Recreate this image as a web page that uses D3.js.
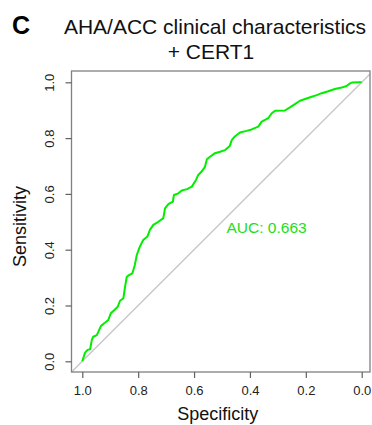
<!DOCTYPE html>
<html>
<head>
<meta charset="utf-8">
<script src="https://cdn.jsdelivr.net/npm/d3@7"></script>
<style>
  html, body { margin: 0; padding: 0; background: #fff; }
  svg { display: block; font-family: "Liberation Sans", Arial, Helvetica, sans-serif; }
</style>
</head>
<body>
<svg id="chart" width="372" height="425"></svg>
<script>
// ROC curve (specificity, sensitivity)
const specificity = [1.000, 0.990, 0.981, 0.972, 0.966, 0.961, 0.948, 0.940, 0.933, 0.919,
  0.907, 0.898, 0.885, 0.873, 0.865, 0.853, 0.847, 0.841, 0.833, 0.821,
  0.812, 0.805, 0.794, 0.782, 0.767, 0.758, 0.746, 0.728, 0.710, 0.704,
  0.692, 0.676, 0.672, 0.656, 0.644, 0.625, 0.608, 0.593, 0.585, 0.573,
  0.561, 0.554, 0.543, 0.525, 0.507, 0.489, 0.472, 0.465, 0.454, 0.436,
  0.412, 0.394, 0.370, 0.358, 0.334, 0.322, 0.310, 0.275, 0.257, 0.239,
  0.221, 0.203, 0.179, 0.161, 0.143, 0.120, 0.096, 0.072, 0.054, 0.042,
  0.035, 0.006, 0.000];
const sensitivity = [0.000, 0.031, 0.041, 0.043, 0.076, 0.088, 0.094, 0.112, 0.127, 0.138,
  0.148, 0.172, 0.184, 0.196, 0.217, 0.226, 0.267, 0.302, 0.309, 0.315,
  0.345, 0.381, 0.411, 0.435, 0.447, 0.471, 0.489, 0.500, 0.513, 0.548,
  0.563, 0.572, 0.596, 0.602, 0.612, 0.617, 0.626, 0.650, 0.668, 0.680,
  0.697, 0.724, 0.733, 0.746, 0.751, 0.757, 0.772, 0.793, 0.806, 0.820,
  0.826, 0.831, 0.841, 0.859, 0.872, 0.889, 0.898, 0.899, 0.910, 0.922,
  0.934, 0.940, 0.948, 0.954, 0.961, 0.968, 0.976, 0.981, 0.987, 0.996,
  0.999, 1.000, 1.000];
const xTicks = [1.0, 0.8, 0.6, 0.4, 0.2, 0.0];
const yTicks = [0.0, 0.2, 0.4, 0.6, 0.8, 1.0];
const titleLines = ["AHA/ACC clinical characteristics", "+ CERT1"];
const panelLabel = "C";
const aucLabel = "AUC: 0.663";

const svg = d3.select("#chart");

// plot region
const x = d3.scaleLinear().domain([1, 0]).range([82.3, 361.7]);
const y = d3.scaleLinear().domain([0, 1]).range([361.3, 82.3]);
const box = { left: 71.5, right: 370, top: 71, bottom: 372 };

svg.append("clipPath").attr("id", "clip")
  .append("rect")
  .attr("x", box.left).attr("y", box.top)
  .attr("width", box.right - box.left).attr("height", box.bottom - box.top);

// chance diagonal, spans the whole box
svg.append("line")
  .attr("clip-path", "url(#clip)")
  .attr("x1", x(x.invert(box.left))).attr("y1", y(1 - x.invert(box.left)))
  .attr("x2", x(x.invert(box.right))).attr("y2", y(1 - x.invert(box.right)))
  .attr("stroke", "#c8c8c8")
  .attr("stroke-width", 1.4);

// roc curve
const pts = specificity.map((s, i) => [s, sensitivity[i]]);
const line = d3.line()
  .x(d => x(d[0]))
  .y(d => y(d[1]));

svg.append("path")
  .datum(pts)
  .attr("fill", "none")
  .attr("stroke", "#00ee00")
  .attr("stroke-width", 2)
  .attr("stroke-linejoin", "round")
  .attr("d", line);

// frame
svg.append("rect")
  .attr("x", box.left).attr("y", box.top)
  .attr("width", box.right - box.left).attr("height", box.bottom - box.top)
  .attr("fill", "none")
  .attr("stroke", "#808080")
  .attr("stroke-width", 1.3);

// axes
const xAxis = svg.append("g")
  .attr("transform", "translate(0," + box.bottom + ")")
  .call(d3.axisBottom(x).tickValues(xTicks).tickSize(6).tickPadding(8).tickFormat(d3.format(".1f")));

const yAxis = svg.append("g")
  .attr("transform", "translate(" + box.left + ",0)")
  .call(d3.axisLeft(y).tickValues(yTicks).tickSize(6).tickFormat(d3.format(".1f")));

[xAxis, yAxis].forEach(g => {
  g.select(".domain").remove();
  g.selectAll(".tick line").attr("stroke", "#606060").attr("stroke-width", 1.2);
  g.selectAll(".tick text")
    .attr("fill", "#222")
    .style("font-size", "13px")
    .style("font-family", "'Liberation Sans', Arial, sans-serif");
});

// y tick labels are parallel to the axis, like R's default
yAxis.selectAll(".tick text")
  .attr("x", null).attr("dy", null)
  .attr("text-anchor", "middle")
  .attr("transform", "translate(-18,0) rotate(-90)");

// axis titles
svg.append("text")
  .attr("x", (box.left + box.right) / 2 - 3)
  .attr("y", 420)
  .attr("text-anchor", "middle")
  .attr("fill", "#111")
  .style("font-size", "18px")
  .text("Specificity");

svg.append("text")
  .attr("transform", "translate(26," + ((box.top + box.bottom) / 2 + 5) + ") rotate(-90)")
  .attr("text-anchor", "middle")
  .attr("fill", "#111")
  .style("font-size", "18px")
  .text("Sensitivity");

// title
svg.append("text")
  .attr("x", 215).attr("y", 33.5)
  .attr("text-anchor", "middle")
  .attr("fill", "#111")
  .style("font-size", "21px")
  .text(titleLines[0]);

svg.append("text")
  .attr("x", 211).attr("y", 58.5)
  .attr("text-anchor", "middle")
  .attr("fill", "#111")
  .style("font-size", "21px")
  .text(titleLines[1]);

svg.append("text")
  .attr("x", 12).attr("y", 33.5)
  .attr("fill", "#000")
  .style("font-size", "25px")
  .style("font-weight", "bold")
  .text(panelLabel);

// auc
svg.append("text")
  .attr("x", 226.5).attr("y", 232.7)
  .attr("fill", "#22dd22")
  .style("font-size", "15.5px")
  .text(aucLabel);
</script>
</body>
</html>
